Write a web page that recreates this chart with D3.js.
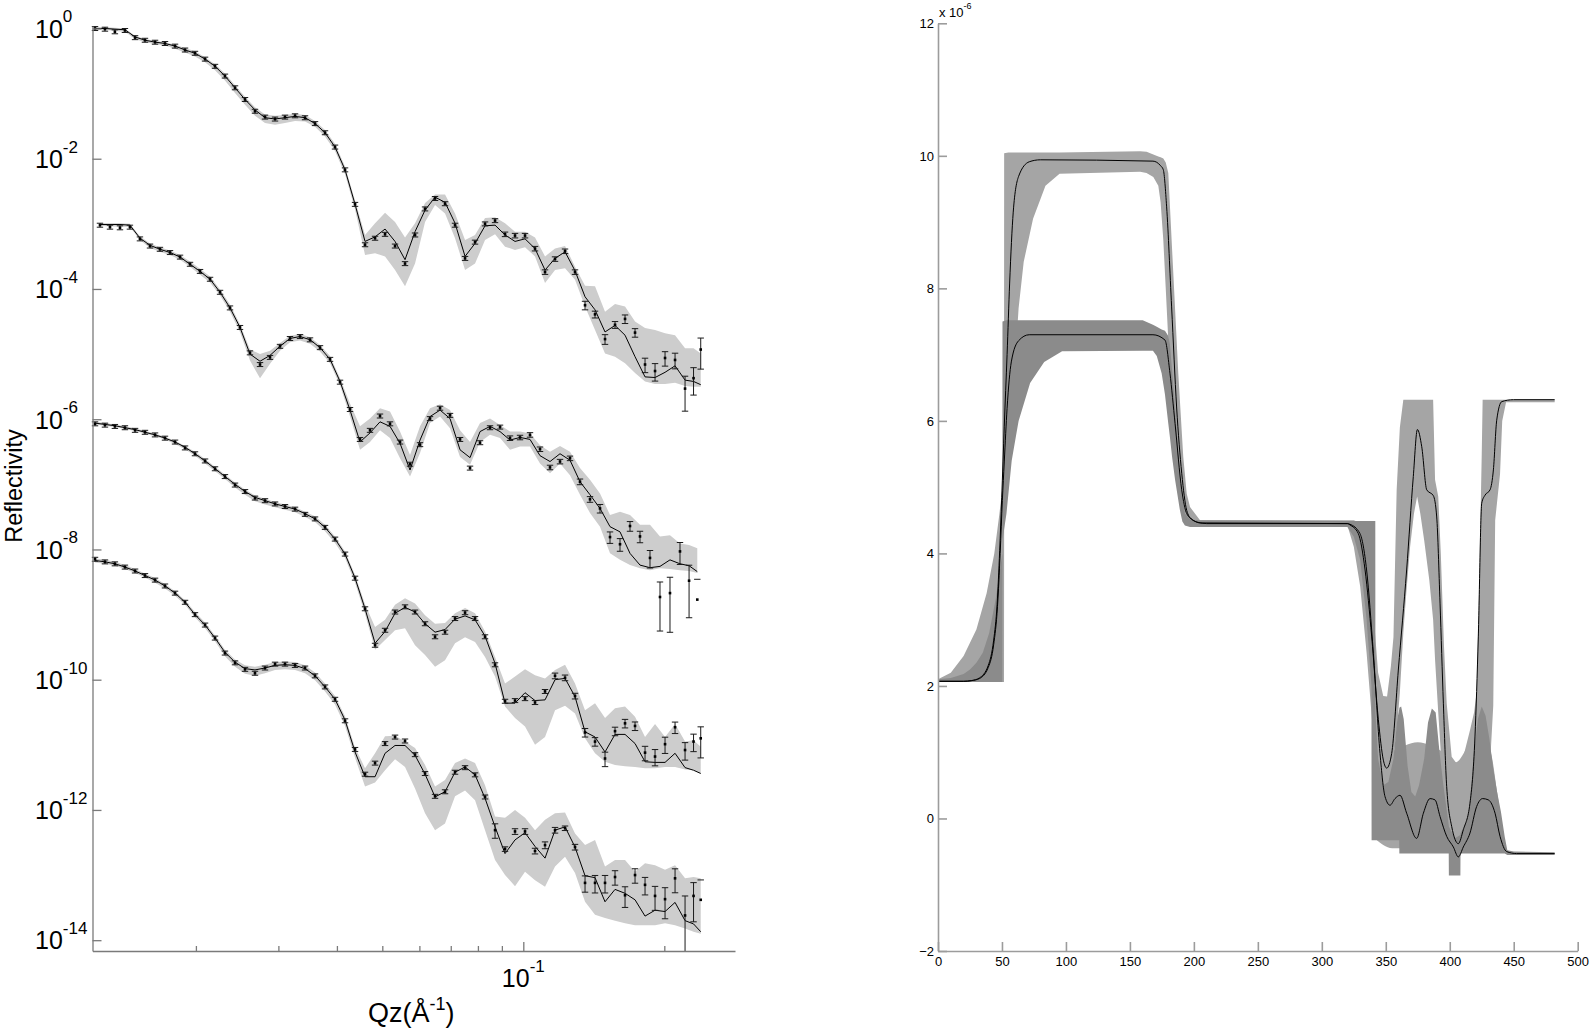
<!DOCTYPE html>
<html><head><meta charset="utf-8">
<script src="https://cdn.jsdelivr.net/npm/d3@7"></script>
<style>
body{margin:0;background:#fff}
svg{display:block}
text{font-family:"Liberation Sans",Arial,Helvetica,sans-serif;fill:#000}
</style>
</head><body>
<svg id="c" width="1595" height="1031"></svg>
<script>
// ---------------- LEFT PANEL DATA (reflectivity, values are log10 R) ----------------
const qGridA = [0.01218,0.01279,0.01343,0.01411,0.01483,0.01557,0.01636,0.01718,0.01805,0.01896,
 0.01991,0.02092,0.02197,0.02307,0.02424,0.02546,0.02674,0.02809,0.02951,0.03099,
 0.03256,0.03420,0.03592,0.03773,0.03963,0.04163,0.04373,0.04593,0.04825,0.05068,
 0.05323,0.05591,0.05873,0.06169,0.06480,0.06806,0.07149,0.07510,0.07888,0.08285,
 0.08703,0.09141,0.09601,0.10085,0.10593,0.11127,0.11688,0.12277,0.12895,0.13545,
 0.14227,0.14944,0.15697,0.16488,0.17319,0.18192,0.19109,0.20072,0.21084,0.22146,
 0.2309,0.2392];
const qGridB = [0.01248,0.01311,0.01377,0.01446,0.01519,0.01596,0.01676,0.01761,0.01850,0.01943,
 0.02041,0.02144,0.02252,0.02365,0.02484,0.02609,0.02741,0.02879,0.03024,0.03176,
 0.03337,0.03505,0.03681,0.03867,0.04062,0.04266,0.04481,0.04707,0.04944,0.05193,
 0.05455,0.05730,0.06019,0.06322,0.06641,0.06975,0.07327,0.07696,0.08084,0.08491,
 0.08919,0.09368,0.09840,0.10335,0.10856,0.11403,0.11977,0.12581,0.13214,0.13880,
 0.14580,0.15314,0.16086,0.16896,0.17747,0.18641,0.19580,0.20566,0.21603,0.22589,
 0.23520];

const c1Data = [0.00,-0.01,-0.05,-0.03,-0.14,-0.18,-0.21,-0.23,-0.27,-0.33,
 -0.38,-0.47,-0.58,-0.73,-0.91,-1.09,-1.27,-1.36,-1.39,-1.36,
 -1.34,-1.37,-1.46,-1.60,-1.82,-2.17,-2.70,-3.32,-3.22,-3.16,
 -3.34,-3.61,-3.17,-2.77,-2.61,-2.69,-3.02,-3.53,-3.28,-3.00,
 -2.95,-3.16,-3.18,-3.18,-3.38,-3.74,-3.54,-3.42,-3.74,-4.25,
 -4.39,-4.77,-4.55,-4.46,-4.67,-5.16,-5.26,-5.06,-5.09,-5.53,
 -5.37,-4.93];
const c1Fit = [0.00,0.00,-0.01,-0.02,-0.13,-0.18,-0.21,-0.23,-0.27,-0.33,
 -0.38,-0.47,-0.58,-0.73,-0.91,-1.09,-1.25,-1.37,-1.39,-1.37,
 -1.35,-1.37,-1.46,-1.60,-1.82,-2.17,-2.70,-3.27,-3.20,-3.08,
 -3.27,-3.55,-3.12,-2.79,-2.59,-2.67,-2.99,-3.50,-3.30,-3.03,
 -3.02,-3.17,-3.27,-3.23,-3.38,-3.71,-3.53,-3.43,-3.72,-4.12,
 -4.32,-4.66,-4.56,-4.71,-5.04,-5.35,-5.36,-5.28,-5.18,-5.40,
 -5.42,-5.47];
const c1Hi = [0.02,0.02,0.01,0.00,-0.11,-0.16,-0.19,-0.21,-0.25,-0.30,
 -0.35,-0.44,-0.55,-0.69,-0.87,-1.05,-1.21,-1.32,-1.34,-1.33,
 -1.31,-1.33,-1.42,-1.56,-1.77,-2.12,-2.64,-3.17,-2.99,-2.83,
 -2.97,-3.21,-2.99,-2.68,-2.55,-2.55,-2.84,-3.25,-3.17,-2.91,
 -2.90,-2.99,-3.12,-3.12,-3.21,-3.50,-3.38,-3.34,-3.66,-3.95,
 -3.96,-4.35,-4.23,-4.27,-4.50,-4.60,-4.63,-4.68,-4.71,-4.91,
 -4.91,-4.99];
const c1Lo = [-0.02,-0.02,-0.04,-0.05,-0.16,-0.21,-0.24,-0.26,-0.31,-0.37,
 -0.43,-0.52,-0.64,-0.80,-0.99,-1.17,-1.34,-1.45,-1.48,-1.45,
 -1.42,-1.43,-1.51,-1.66,-1.88,-2.24,-2.78,-3.48,-3.45,-3.50,
 -3.71,-3.96,-3.61,-2.97,-2.71,-2.84,-3.22,-3.71,-3.61,-3.25,
 -3.16,-3.35,-3.40,-3.36,-3.50,-3.91,-3.71,-3.68,-3.86,-4.27,
 -4.63,-4.99,-5.04,-5.14,-5.29,-5.42,-5.46,-5.46,-5.44,-5.49,
 -5.50,-5.50];
const c1Err = [0.07,0.07,0.07,0.07,0.07,0.07,0.07,0.07,0.07,0.07,
 0.07,0.07,0.07,0.07,0.07,0.07,0.07,0.07,0.07,0.07,
 0.07,0.07,0.07,0.07,0.07,0.07,0.07,0.07,0.07,0.07,
 0.07,0.07,0.07,0.07,0.07,0.07,0.07,0.07,0.07,0.07,
 0.07,0.08,0.08,0.08,0.08,0.08,0.08,0.08,0.08,0.15,
 0.12,0.17,0.12,0.15,0.15,0.25,0.30,0.25,0.27,0.55,
 0.45,0.50];

const c2Data = [-3.02,-3.05,-3.06,-3.05,-3.23,-3.34,-3.39,-3.44,-3.51,-3.62,
 -3.73,-3.85,-4.05,-4.29,-4.59,-4.98,-5.16,-5.05,-4.88,-4.76,
 -4.73,-4.78,-4.90,-5.08,-5.43,-5.85,-6.31,-6.17,-5.95,-6.07,
 -6.35,-6.69,-6.39,-5.99,-5.83,-5.94,-6.31,-6.75,-6.36,-6.13,
 -6.12,-6.29,-6.28,-6.24,-6.46,-6.74,-6.65,-6.60,-6.96,-7.23,
 -7.37,-7.81,-7.92,-7.64,-7.80,-8.13,-8.73,-8.67,-8.03,-8.48,
 -8.77];
const c2Fit = [-3.01,-3.01,-3.01,-3.02,-3.22,-3.33,-3.39,-3.44,-3.51,-3.62,
 -3.73,-3.85,-4.05,-4.29,-4.59,-5.00,-5.11,-5.02,-4.88,-4.76,
 -4.73,-4.78,-4.90,-5.08,-5.42,-5.86,-6.35,-6.21,-6.04,-6.11,
 -6.37,-6.78,-6.32,-5.96,-5.86,-5.99,-6.47,-6.59,-6.19,-6.11,
 -6.19,-6.32,-6.28,-6.31,-6.56,-6.65,-6.53,-6.63,-6.96,-7.16,
 -7.37,-7.65,-7.73,-8.06,-8.24,-8.28,-8.26,-8.16,-8.22,-8.25,
 -8.34];
const c2Hi = [-2.99,-2.99,-2.99,-3.00,-3.19,-3.30,-3.36,-3.41,-3.48,-3.58,
 -3.69,-3.81,-4.01,-4.24,-4.54,-4.93,-5.00,-4.95,-4.83,-4.72,
 -4.69,-4.74,-4.86,-5.03,-5.37,-5.76,-6.11,-5.99,-5.83,-5.88,
 -6.19,-6.55,-6.11,-5.83,-5.77,-5.86,-6.17,-6.35,-6.06,-5.99,
 -6.09,-6.19,-6.19,-6.22,-6.40,-6.50,-6.41,-6.50,-6.75,-6.93,
 -7.14,-7.47,-7.42,-7.47,-7.62,-7.62,-7.80,-7.78,-7.91,-7.93,
 -7.98];
const c2Lo = [-3.03,-3.04,-3.04,-3.05,-3.25,-3.37,-3.43,-3.48,-3.55,-3.66,
 -3.78,-3.90,-4.10,-4.35,-4.66,-5.10,-5.37,-5.15,-4.95,-4.82,
 -4.79,-4.84,-4.96,-5.14,-5.48,-5.96,-6.47,-6.35,-6.17,-6.29,
 -6.60,-6.88,-6.52,-6.06,-5.96,-6.14,-6.58,-6.70,-6.35,-6.24,
 -6.29,-6.47,-6.42,-6.42,-6.68,-6.83,-6.68,-6.86,-7.16,-7.44,
 -7.65,-8.06,-8.16,-8.24,-8.29,-8.32,-8.29,-8.30,-8.32,-8.33,
 -8.36];
const c2Err = [0.07,0.07,0.07,0.07,0.07,0.07,0.07,0.07,0.07,0.07,
 0.07,0.07,0.07,0.07,0.07,0.07,0.07,0.07,0.07,0.07,
 0.07,0.07,0.07,0.07,0.07,0.07,0.07,0.07,0.07,0.07,
 0.07,0.07,0.07,0.07,0.07,0.07,0.07,0.07,0.07,0.07,
 0.07,0.08,0.08,0.08,0.08,0.08,0.08,0.08,0.10,0.10,
 0.15,0.20,0.22,0.17,0.20,0.30,0.70,0.75,0.37,0.73,
 1.05];

const c3Data = [-6.07,-6.09,-6.11,-6.13,-6.17,-6.20,-6.24,-6.29,-6.35,-6.44,
 -6.53,-6.64,-6.76,-6.88,-7.01,-7.11,-7.21,-7.25,-7.30,-7.34,
 -7.38,-7.46,-7.53,-7.66,-7.84,-8.07,-8.44,-8.91,-9.47,-9.24,
 -8.96,-8.88,-8.96,-9.14,-9.34,-9.27,-9.06,-8.97,-9.06,-9.34,
 -9.77,-10.33,-10.32,-10.29,-10.35,-10.18,-9.94,-9.97,-10.25,-10.81,
 -10.95,-11.21,-10.79,-10.67,-10.71,-11.12,-11.18,-10.99,-10.73,-11.08,
 -10.95,-10.90];
const c3Fit = [-6.06,-6.08,-6.10,-6.13,-6.16,-6.20,-6.24,-6.29,-6.35,-6.43,
 -6.53,-6.64,-6.76,-6.88,-7.00,-7.11,-7.20,-7.25,-7.30,-7.34,
 -7.38,-7.45,-7.53,-7.66,-7.84,-8.07,-8.44,-8.91,-9.44,-9.26,
 -8.98,-8.89,-8.96,-9.14,-9.27,-9.23,-9.07,-9.02,-9.08,-9.33,
 -9.75,-10.36,-10.36,-10.20,-10.32,-10.31,-10.00,-9.98,-10.26,-10.80,
 -10.88,-11.11,-10.84,-10.84,-10.98,-11.26,-11.27,-11.27,-11.13,-11.35,
 -11.39,-11.44];
const c3Hi = [-6.04,-6.06,-6.08,-6.11,-6.14,-6.18,-6.22,-6.27,-6.33,-6.41,
 -6.50,-6.61,-6.73,-6.85,-6.97,-7.08,-7.17,-7.22,-7.27,-7.31,
 -7.35,-7.42,-7.49,-7.62,-7.80,-8.03,-8.39,-8.84,-9.19,-9.08,
 -8.85,-8.75,-8.83,-9.01,-9.14,-9.13,-8.98,-8.90,-8.98,-9.26,
 -9.65,-10.06,-9.95,-9.84,-9.93,-9.98,-9.85,-9.77,-10.06,-10.47,
 -10.36,-10.59,-10.44,-10.41,-10.57,-10.88,-10.68,-10.88,-10.68,-10.95,
 -10.93,-11.03];
const c3Lo = [-6.08,-6.10,-6.12,-6.15,-6.18,-6.22,-6.26,-6.31,-6.38,-6.46,
 -6.56,-6.68,-6.80,-6.92,-7.05,-7.16,-7.26,-7.31,-7.35,-7.39,
 -7.43,-7.50,-7.58,-7.72,-7.90,-8.13,-8.51,-8.99,-9.54,-9.39,
 -9.24,-9.21,-9.47,-9.62,-9.80,-9.70,-9.44,-9.35,-9.42,-9.65,
 -9.95,-10.41,-10.59,-10.72,-11.00,-10.88,-10.47,-10.40,-10.52,-10.90,
 -11.13,-11.26,-11.31,-11.33,-11.34,-11.36,-11.36,-11.34,-11.34,-11.38,
 -11.39,-11.44];
const c3Err = [0.07,0.07,0.07,0.07,0.07,0.07,0.07,0.07,0.07,0.07,
 0.07,0.07,0.07,0.07,0.07,0.07,0.07,0.07,0.07,0.07,
 0.07,0.07,0.07,0.07,0.07,0.07,0.07,0.07,0.07,0.07,
 0.07,0.07,0.07,0.07,0.07,0.07,0.07,0.07,0.07,0.07,
 0.07,0.07,0.07,0.07,0.07,0.07,0.10,0.10,0.10,0.15,
 0.15,0.25,0.15,0.15,0.15,0.25,0.28,0.28,0.20,0.30,
 0.30,0.50];

const c4Data = [-8.15,-8.19,-8.22,-8.27,-8.33,-8.40,-8.47,-8.56,-8.67,-8.81,
 -9.00,-9.16,-9.36,-9.59,-9.74,-9.84,-9.90,-9.82,-9.76,-9.76,
 -9.78,-9.82,-9.94,-10.11,-10.30,-10.63,-11.07,-11.45,-11.28,-10.98,
 -10.88,-10.94,-11.15,-11.44,-11.79,-11.72,-11.42,-11.35,-11.46,-11.80,
 -12.31,-12.60,-12.33,-12.33,-12.63,-12.54,-12.31,-12.28,-12.57,-13.12,
 -13.12,-13.12,-13.03,-13.31,-13.00,-13.15,-13.32,-13.37,-13.05,-13.62,
 -13.32,-13.38];
const c4Fit = [-8.17,-8.19,-8.22,-8.27,-8.33,-8.40,-8.47,-8.56,-8.67,-8.81,
 -9.00,-9.16,-9.36,-9.58,-9.73,-9.83,-9.85,-9.82,-9.78,-9.77,
 -9.78,-9.83,-9.94,-10.11,-10.30,-10.62,-11.11,-11.49,-11.49,-11.13,
 -11.01,-11.01,-11.16,-11.45,-11.80,-11.72,-11.42,-11.34,-11.46,-11.82,
 -12.26,-12.67,-12.46,-12.35,-12.56,-12.74,-12.31,-12.26,-12.57,-13.01,
 -13.04,-13.41,-13.22,-13.28,-13.38,-13.63,-13.54,-13.56,-13.42,-13.70,
 -13.75,-13.87];
const c4Hi = [-8.14,-8.16,-8.19,-8.24,-8.30,-8.37,-8.44,-8.53,-8.64,-8.78,
 -8.96,-9.12,-9.32,-9.54,-9.69,-9.78,-9.80,-9.77,-9.73,-9.72,
 -9.73,-9.78,-9.89,-10.06,-10.25,-10.56,-11.04,-11.36,-11.13,-10.87,
 -10.86,-10.95,-11.05,-11.31,-11.64,-11.54,-11.28,-11.21,-11.28,-11.62,
 -12.10,-12.12,-12.00,-12.12,-12.31,-12.15,-12.05,-12.04,-12.36,-12.54,
 -12.46,-12.87,-12.77,-12.77,-12.95,-12.82,-12.85,-12.92,-12.85,-13.05,
 -13.03,-13.05];
const c4Lo = [-8.20,-8.22,-8.25,-8.30,-8.36,-8.43,-8.51,-8.60,-8.71,-8.85,
 -9.04,-9.21,-9.41,-9.64,-9.80,-9.91,-9.94,-9.90,-9.85,-9.84,
 -9.85,-9.90,-10.01,-10.18,-10.38,-10.71,-11.20,-11.64,-11.58,-11.39,
 -11.22,-11.34,-11.67,-12.05,-12.31,-12.21,-11.79,-11.70,-11.85,-12.31,
 -12.77,-13.00,-13.17,-12.95,-13.08,-13.18,-12.87,-12.72,-12.97,-13.41,
 -13.61,-13.66,-13.70,-13.74,-13.77,-13.77,-13.77,-13.74,-13.77,-13.82,
 -13.87,-13.90];
const c4Err = [0.07,0.07,0.07,0.07,0.07,0.07,0.07,0.07,0.07,0.07,
 0.07,0.07,0.07,0.07,0.07,0.07,0.07,0.07,0.07,0.07,
 0.07,0.07,0.07,0.07,0.07,0.07,0.07,0.07,0.07,0.07,
 0.07,0.07,0.07,0.07,0.07,0.07,0.07,0.07,0.07,0.07,
 0.25,0.08,0.10,0.10,0.10,0.12,0.10,0.08,0.10,0.28,
 0.30,0.30,0.25,0.35,0.25,0.30,0.40,0.50,0.40,0.99,
 0.60,1.02];

const reflYTickExps = [0,-2,-4,-6,-8,-10,-12,-14];
const qMinorTicks = [0.02,0.03,0.04,0.05,0.06,0.07,0.08,0.09,0.2];
const qMajorTicks = [0.1];

// ---------------- RIGHT PANEL DATA (SLD profiles, x 10^-6) ----------------
const profAz = [0,20,26,32.3,39.3,43.5,46.2,48.2,49.8,51.8,54,56,58.8,63,71.3,80,168,174,176.1,178.7,
 182.6,186.5,190.5,194.4,198,203,210,320,322,328.5,333.8,339,344.2,348.1,350.7,354.6,359.8,366.3,371.5,374.7,
 378.1,382,387.2,389.8,392.4,395,397.6,401.5,406.7,410.6,415.8,419.7,422.3,425,427.6,431.5,434.1,436.7,440.6,449.7,482];
const profAv = [2.07,2.07,2.08,2.12,2.31,2.69,3.23,4.04,4.84,5.92,7.0,8.08,9.15,9.69,9.91,9.94,9.92,9.85,9.79,9.23,
 7.72,6.21,5.21,4.65,4.52,4.47,4.45,4.45,4.43,4.30,3.75,2.74,1.49,0.88,0.76,0.98,2.24,3.75,5.16,5.87,
 5.61,4.96,4.87,4.55,3.25,1.74,0.48,-0.12,-0.38,-0.17,0.23,1.23,2.74,4.76,4.88,4.96,5.26,6.01,6.29,6.32,6.32];
const profBz = [0,20,26,32.3,39.3,43.5,46.5,48.6,50.3,51.8,54,57.3,63,71.3,168,177.4,181.3,185.3,190.5,194.4,
 199.6,205,320,322,329.8,335,340.3,345.5,349.4,353.3,357.2,361.1,366.3,374.1,379.4,384.6,388.5,392.4,397.6,402.8,
 406.7,410.6,415.8,421,425.7,430.2,435.4,439.3,444.5,452.3,482];
const profBv = [2.07,2.07,2.08,2.11,2.28,2.62,3.2,4.0,4.8,5.38,6.19,6.89,7.21,7.30,7.30,7.22,6.72,5.96,4.96,4.60,
 4.50,4.46,4.45,4.44,4.30,3.75,2.49,0.98,0.33,0.20,0.30,0.35,0.08,-0.30,0.08,0.30,0.28,0.03,-0.27,-0.43,
 -0.58,-0.43,-0.22,0.18,0.30,0.28,0.08,-0.27,-0.50,-0.53,-0.53];

const bandAz = [0,10,20,30,38,44,48,51.6,51.7,55,60,63,67,74.3,84,95,158,163,168.3,172.2,
 174,176.1,178,180,183.9,187.8,191.7,194.4,197,204.8,320,325,330,335,340,344,348,351,354,356,
 358.5,361,363.7,366,369,372,374.5,377,380,384,387,388.5,391,393,395.5,397.6,401.5,405.4,410.6,415.8,
 419,421,423,425,425.7,428,432,434,435.5,439.3,441,444,482];
const bandAlo = [2.06,2.06,2.06,2.06,2.06,2.06,2.06,2.06,4.6,5.5,6.8,7.7,8.4,9.05,9.55,9.73,9.76,9.74,9.68,9.55,
 9.3,8.73,8.0,7.22,5.71,4.85,4.55,4.45,4.42,4.42,4.42,4.10,3.5,2.5,1.3,0.65,0.55,0.55,0.75,0.9,
 1.3,1.9,2.8,3.4,4.1,4.6,4.86,4.6,4.2,3.6,3.0,2.4,1.6,1.0,0.4,0.0,-0.3,-0.45,-0.3,0.0,
 0.6,0.9,1.0,1.0,1.0,1.0,1.0,1.7,4.5,5.2,6.0,6.28,6.28];
const bandAhi = [2.10,2.2,2.45,2.85,3.4,4.0,4.6,5.2,10.04,10.05,10.05,10.05,10.05,10.05,10.05,10.05,10.07,10.06,10.02,9.99,
 9.98,9.96,9.9,9.74,8.23,6.72,5.46,4.9,4.70,4.50,4.50,4.50,4.46,4.1,3.2,2.2,1.85,1.84,2.3,2.74,
 4.96,5.9,6.32,6.32,6.32,6.32,6.32,6.32,6.32,6.32,6.32,5.11,4.86,4.0,2.6,1.74,0.93,0.83,0.93,1.33,
 1.6,1.9,3.5,5.5,6.32,6.32,6.32,6.32,6.32,6.32,6.32,6.32,6.32];
const floorAz = [343,348,355,365,375,385,395,405,415,425,432,437,440];
const floorAlo = [-0.33,-0.4,-0.45,-0.45,-0.45,-0.45,-0.45,-0.45,-0.45,-0.45,-0.45,-0.45,-0.45];
const floorAhi = [0.6,0.8,1.0,1.1,1.15,1.1,1.0,0.85,1.1,1.2,1.0,0.4,0.0];

const bandBz = [0,10,20,25,30,35,40,45,50.3,50.4,53.5,57.6,63,72,83,97,160,168,171,174.8,
 177.4,180,181.3,183,185.3,189.1,191,193,197,200,320,325,330,335,338.8,338.9,341.8,341.9,344,348,
 352,356,359,360.5,360.6,362,364,367,370,373,376,380,383,386,389,392,395,398,399.2,399.3,
 404,408.3,408.4,412,415,419,422,425,428,431,434,437,440,443,445,450,482];
const bandBlo = [2.06,2.06,2.06,2.06,2.06,2.06,2.06,2.06,2.06,4.2,4.6,5.4,6.0,6.57,6.89,7.05,7.06,7.06,6.98,6.72,
 6.40,5.96,5.75,5.45,5.11,4.65,4.48,4.42,4.40,4.40,4.40,4.25,3.9,3.0,2.0,-0.33,-0.33,-0.33,-0.33,-0.33,
 -0.33,-0.33,-0.33,-0.33,-0.53,-0.53,-0.53,-0.53,-0.53,-0.53,-0.53,-0.53,-0.53,-0.53,-0.53,-0.53,-0.53,-0.53,-0.53,-0.86,
 -0.86,-0.86,-0.53,-0.53,-0.53,-0.53,-0.53,-0.53,-0.53,-0.53,-0.53,-0.53,-0.53,-0.53,-0.55,-0.55,-0.55];
const bandBhi = [2.10,2.12,2.18,2.25,2.35,2.5,2.8,3.3,4.0,7.5,7.52,7.52,7.52,7.52,7.52,7.52,7.52,7.45,7.42,7.38,
 7.36,7.28,7.15,6.75,6.21,5.21,4.9,4.60,4.52,4.50,4.49,4.49,4.49,4.49,4.49,4.49,4.49,1.6,0.9,0.5,
 0.55,0.9,1.5,1.65,1.67,1.69,1.5,0.8,0.4,0.33,0.5,0.9,1.45,1.66,1.6,1.0,0.5,0.08,-0.1,-0.12,
 -0.3,-0.25,-0.22,-0.1,0.1,1.0,1.5,1.69,1.55,1.2,0.75,0.4,0.1,-0.28,-0.48,-0.50,-0.51];

const sldXTicks = [0,50,100,150,200,250,300,350,400,450,500];
const sldYTicks = [-2,0,2,4,6,8,10,12];

// ---------------- DRAW ----------------
const svg = d3.select("#c");
const P = v => Math.pow(10, v);

// left scales
const xL = d3.scaleLog().domain([0.01203, 0.2831]).range([92.5, 735]);
const yL = d3.scaleLog().domain([P(-14.166), P(0.038)]).range([951, 26]);
const yBottom = 951;

const curves = [
  {q: qGridA, data: c1Data, fit: c1Fit, lo: c1Lo, hi: c1Hi, err: c1Err},
  {q: qGridB, data: c2Data, fit: c2Fit, lo: c2Lo, hi: c2Hi, err: c2Err},
  {q: qGridA, data: c3Data, fit: c3Fit, lo: c3Lo, hi: c3Hi, err: c3Err},
  {q: qGridA, data: c4Data, fit: c4Fit, lo: c4Lo, hi: c4Hi, err: c4Err}
];

const gL = svg.append("g");
const areaL = d3.area().x(d => xL(d.q)).y0(d => yL(P(d.lo))).y1(d => yL(P(d.hi)));
const lineL = d3.line().x(d => xL(d.q)).y(d => yL(P(d.v)));

curves.forEach(c => {
  gL.append("path")
    .datum(c.q.map((q, i) => ({q, lo: c.lo[i], hi: c.hi[i]})))
    .attr("d", areaL).attr("fill", "#cdcdcd").attr("stroke", "none");
});
curves.forEach(c => {
  gL.append("path")
    .datum(c.q.map((q, i) => ({q, v: c.fit[i]})))
    .attr("d", lineL).attr("fill", "none").attr("stroke", "#000").attr("stroke-width", 1);
});
const eb = gL.append("g").attr("stroke", "#1a1a1a").attr("stroke-width", 1).attr("fill", "none");
const capW = 3.2;
curves.forEach(c => {
  c.q.forEach((q, i) => {
    const R = P(c.data[i]), s = c.err[i];
    const x = xL(q);
    const yt = yL(R * (1 + s));
    eb.append("line").attr("x1", x - capW).attr("x2", x + capW).attr("y1", yt).attr("y2", yt);
    const bot = R * (1 - s);
    if (bot > 0) {
      const clipped = bot < yL.domain()[0];
      const yb = clipped ? yBottom : yL(bot);
      eb.append("line").attr("x1", x).attr("x2", x).attr("y1", yt).attr("y2", yb);
      if (!clipped) eb.append("line").attr("x1", x - capW).attr("x2", x + capW).attr("y1", yb).attr("y2", yb);
    }
    gL.append("rect").attr("x", x - 1.3).attr("y", yL(R) - 1.3).attr("width", 2.6).attr("height", 2.6).attr("fill", "#000");
  });
});

// left axes
const axisColL = "#7a7a7a";
const gAy = gL.append("g").attr("transform", "translate(92.5,0)")
  .call(d3.axisLeft(yL).tickValues(reflYTickExps.map(e => P(e))).tickSize(-9).tickSizeOuter(0).tickFormat(""));
const gAx = gL.append("g").attr("transform", "translate(0," + yBottom + ")")
  .call(d3.axisBottom(xL).tickValues(qMinorTicks).tickSize(-5).tickSizeOuter(0).tickFormat(""));
const gAx2 = gL.append("g").attr("transform", "translate(0," + yBottom + ")")
  .call(d3.axisBottom(xL).tickValues(qMajorTicks).tickSize(-9).tickSizeOuter(0).tickFormat(""));
gAx2.select(".domain").remove();
[gAy, gAx, gAx2].forEach(g => {
  g.selectAll("path,line").attr("stroke", axisColL).attr("stroke-width", 1.3);
});

reflYTickExps.forEach(e => {
  const y = yL(P(e));
  const t = gL.append("text").attr("x", 35).attr("y", y + 9.3).attr("font-size", 25);
  t.append("tspan").text("10");
  t.append("tspan").attr("font-size", 17).attr("dy", -15.3).text(String(e));
});
qMajorTicks.forEach(q => {
  const t = gL.append("text").attr("x", xL(q)).attr("y", 987).attr("text-anchor", "middle").attr("font-size", 25);
  t.append("tspan").text("10");
  t.append("tspan").attr("font-size", 17).attr("dy", -15).text(String(Math.round(Math.log10(q))));
});
// axis titles
const tq = gL.append("text").attr("x", 368).attr("y", 1022).attr("font-size", 27);
tq.append("tspan").text("Qz(Å");
tq.append("tspan").attr("font-size", 18).attr("dy", -12).text("-1");
tq.append("tspan").attr("dy", 12).text(")");
gL.append("text").attr("transform", "translate(21.5,486) rotate(-90)").attr("text-anchor", "middle")
  .attr("font-size", 23.5).text("Reflectivity");

// right scales
const xR = d3.scaleLinear().domain([0, 500]).range([938, 1577.7]);
const yR = d3.scaleLinear().domain([-2, 12]).range([951, 23.3]);
const gR = svg.append("g");
const areaR = d3.area().x(d => xR(d.z)).y0(d => yR(d.lo)).y1(d => yR(d.hi));
const lineR = d3.line().x(d => xR(d.z)).y(d => yR(d.v)).curve(d3.curveMonotoneX);

gR.append("path").datum(bandAz.map((z, i) => ({z, lo: bandAlo[i], hi: bandAhi[i]})))
  .attr("d", areaR).attr("fill", "#a5a5a5");
gR.append("path").datum(floorAz.map((z, i) => ({z, lo: floorAlo[i], hi: floorAhi[i]})))
  .attr("d", areaR.curve(d3.curveMonotoneX)).attr("fill", "#a5a5a5");
areaR.curve(d3.curveLinear);
gR.append("path").datum(bandBz.map((z, i) => ({z, lo: bandBlo[i], hi: bandBhi[i]})))
  .attr("d", areaR).attr("fill", "#8b8b8b");
gR.append("path").datum(profAz.map((z, i) => ({z, v: profAv[i]})))
  .attr("d", lineR).attr("fill", "none").attr("stroke", "#000").attr("stroke-width", 1);
gR.append("path").datum(profBz.map((z, i) => ({z, v: profBv[i]})))
  .attr("d", lineR).attr("fill", "none").attr("stroke", "#000").attr("stroke-width", 1);

const axisColR = "#9c9c9c";
const gRx = gR.append("g").attr("transform", "translate(0,951)")
  .call(d3.axisBottom(xR).tickValues(sldXTicks).tickSize(-9).tickSizeOuter(0).tickPadding(6));
const gRy = gR.append("g").attr("transform", "translate(938,0)")
  .call(d3.axisLeft(yR).tickValues(sldYTicks).tickSize(-9).tickSizeOuter(0).tickPadding(4));
[gRx, gRy].forEach(g => {
  g.selectAll("path,line").attr("stroke", axisColR).attr("stroke-width", 1.6);
  g.selectAll("text").attr("font-size", 13).attr("fill", "#000")
    .attr("font-family", '"Liberation Sans",Arial,sans-serif');
});
const tm = gR.append("text").attr("x", 939).attr("y", 16.7).attr("font-size", 13);
tm.append("tspan").text("x 10");
tm.append("tspan").attr("font-size", 9).attr("dy", -8).text("-6");
</script>
</body></html>
